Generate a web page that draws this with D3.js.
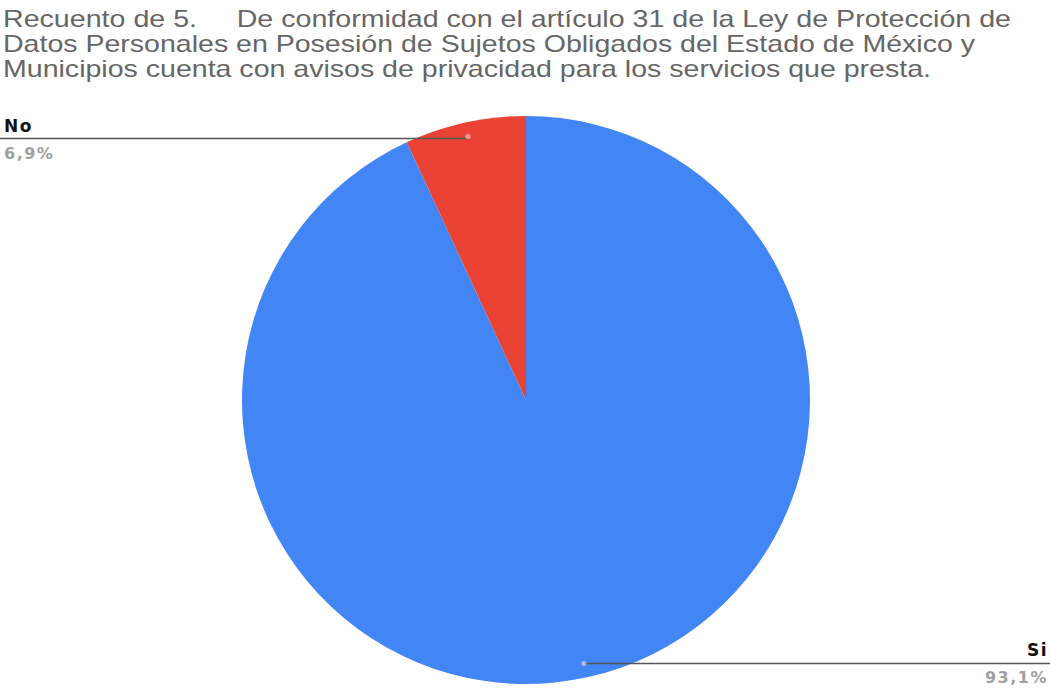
<!DOCTYPE html>
<html>
<head>
<meta charset="utf-8">
<script src="https://cdn.jsdelivr.net/npm/d3@7"></script>
<style>
  html, body { margin: 0; padding: 0; background: #fff; }
  svg { display: block; }
</style>
</head>
<body>
<svg id="chart" width="1050" height="688"></svg>
<script>
// Response counts per answer
const categories = ["Si", "No"];
const counts = [27, 2];
const colors = ["#4285f4", "#ea4335"];
const titleLines = [
  "Recuento de 5.\u00a0\u00a0\u00a0\u00a0\u00a0De conformidad con el artículo 31 de la Ley de Protección de",
  "Datos Personales en Posesión de Sujetos Obligados del Estado de México y",
  "Municipios cuenta con avisos de privacidad para los servicios que presta."
];
const titleWidths = [1008, 972, 928];

const svg = d3.select("#chart");
const W = 1050;

// Title, three lines
svg.append("g").selectAll("text")
  .data(titleLines)
  .join("text")
  .attr("x", 3)
  .attr("y", (d, i) => 27 + i * 25)
  .attr("font-family", "Liberation Sans, Arial, sans-serif")
  .attr("font-size", 24)
  .attr("fill", "#666")
  .attr("textLength", (d, i) => titleWidths[i])
  .attr("lengthAdjust", "spacingAndGlyphs")
  .text(d => d);

// Pie
const cx = 526, cy = 400, r = 284;
const data = categories.map((c, i) => ({ cat: c, value: counts[i], color: colors[i] }));
const total = d3.sum(counts);
const pct = d3.format(".1f");
const fmt = v => pct(v / total * 100).replace(".", ",") + "%";

const pie = d3.pie().sort(null).value(d => d.value);
const arcs = pie(data);
const arc = d3.arc().innerRadius(0).outerRadius(r);

const g = svg.append("g").attr("transform", `translate(${cx},${cy})`);
g.selectAll("path")
  .data(arcs)
  .join("path")
  .attr("d", arc)
  .attr("fill", d => d.data.color);

// Leader lines and labels
const anchorR = r * 0.95;
const anchor = a => {
  const m = (a.startAngle + a.endAngle) / 2;
  return [cx + Math.sin(m) * anchorR, cy - Math.cos(m) * anchorR];
};

arcs.forEach(a => {
  const [px, py] = anchor(a);
  const left = px < cx;
  const xEnd = left ? 0 : W;
  const ly = left ? py + 2 : py;
  svg.append("line")
    .attr("x1", px).attr("y1", ly)
    .attr("x2", xEnd).attr("y2", ly)
    .attr("stroke", "#555")
    .attr("stroke-width", 1.6);
  svg.append("circle")
    .attr("cx", px).attr("cy", py)
    .attr("r", 2.5)
    .attr("fill", "#fff")
    .attr("opacity", 0.5);
  const tx = left ? 4 : W - 2;
  const anchorTxt = left ? "start" : "end";
  svg.append("text")
    .attr("x", tx).attr("y", ly - 7)
    .attr("text-anchor", anchorTxt)
    .attr("font-family", "DejaVu Sans, Verdana, sans-serif")
    .attr("font-weight", "bold")
    .attr("font-size", 17)
    .attr("letter-spacing", 1.5)
    .attr("fill", "#111")
    .text(a.data.cat);
  svg.append("text")
    .attr("x", tx).attr("y", ly + 20)
    .attr("text-anchor", anchorTxt)
    .attr("font-family", "DejaVu Sans, Verdana, sans-serif")
    .attr("font-weight", "bold")
    .attr("font-size", 16)
    .attr("letter-spacing", 1.5)
    .attr("fill", "#a0a0a0")
    .text(fmt(a.data.value));
});
</script>
</body>
</html>
